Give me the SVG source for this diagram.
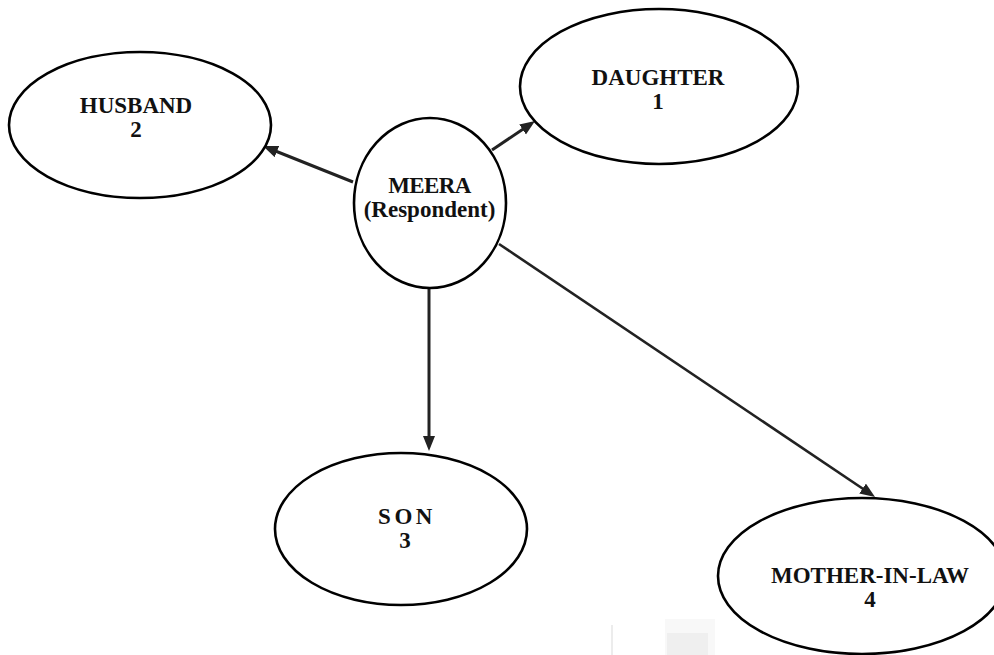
<svg xmlns="http://www.w3.org/2000/svg" width="994" height="655" viewBox="0 0 994 655">
  <style>
    .node ellipse { fill: #ffffff; stroke: #000000; stroke-width: 2.6; }
    .node text { font-family: "Liberation Serif", "Times New Roman", serif; font-weight: bold; font-size: 23px; fill: #111111; text-anchor: middle; }
    .edge { stroke: #222222; stroke-width: 3; fill: none; marker-end: url(#arrow); }
  </style>
  <defs>
    <marker id="arrow" markerUnits="userSpaceOnUse" markerWidth="16" markerHeight="13" refX="7" refY="6" orient="auto">
      <path d="M0,0 L15,6 L0,12 z" fill="#222222"/>
    </marker>
  </defs>
  <rect width="994" height="655" fill="#ffffff"/>
  <!-- faint artifacts at bottom -->
  <rect x="611" y="625" width="2" height="30" fill="#ececec"/>
  <rect x="665" y="619" width="50" height="36" fill="#f8f8f8"/>
  <rect x="667" y="633" width="41" height="22" fill="#efefef"/>

  <g id="connectors">
    <line class="edge" x1="353" y1="182" x2="270.4" y2="149"/>
    <line class="edge" x1="492" y1="150" x2="528.4" y2="125.5"/>
    <line class="edge" x1="429" y1="288" x2="429" y2="443"/>
    <line class="edge" x1="499" y1="244" x2="868.4" y2="492.5" style="stroke-width:2.6"/>
  </g>

  <g id="husband" class="node">
    <ellipse cx="140" cy="125" rx="131" ry="73"/>
    <text x="136" y="113">HUSBAND</text>
    <text x="136" y="137">2</text>
  </g>
  <g id="daughter" class="node">
    <ellipse cx="659" cy="86.5" rx="139" ry="77.5"/>
    <text x="658" y="85">DAUGHTER</text>
    <text x="658" y="109">1</text>
  </g>
  <g id="meera" class="node">
    <ellipse cx="430" cy="203" rx="76" ry="85"/>
    <text x="429.5" y="193" style="letter-spacing:-0.6px">MEERA</text>
    <text x="429.5" y="217">(Respondent)</text>
  </g>
  <g id="son" class="node">
    <ellipse cx="401" cy="529" rx="126" ry="76"/>
    <text x="407" y="524" style="letter-spacing:3.5px">SON</text>
    <text x="405" y="548">3</text>
  </g>
  <g id="mother-in-law" class="node">
    <ellipse cx="862" cy="576" rx="144" ry="78"/>
    <text x="870" y="583">MOTHER-IN-LAW</text>
    <text x="870" y="607">4</text>
  </g>
</svg>
